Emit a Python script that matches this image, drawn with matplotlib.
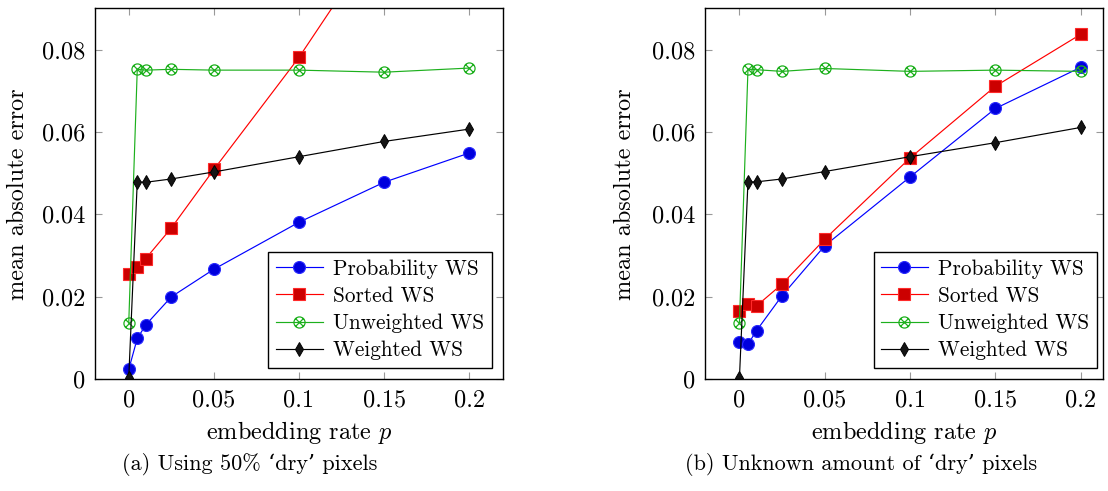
import matplotlib
matplotlib.use("Agg")
import matplotlib.pyplot as plt
from matplotlib.path import Path
import numpy as np

# ---------------- data ----------------
rates = [0, 0.005, 0.01, 0.025, 0.05, 0.1, 0.15, 0.2]

a_prob = [0.0024, 0.0099, 0.0132, 0.0200, 0.0267, 0.0381, 0.0478, 0.0549]
a_sorted = [0.0255, 0.0273, 0.0293, 0.0367, 0.0509, 0.0781, 0.1090, 0.1400]
a_unweighted = [0.0137, 0.0752, 0.0750, 0.0752, 0.0750, 0.0750, 0.0745, 0.0755]
a_weighted = [0.0004, 0.0479, 0.0478, 0.0486, 0.0503, 0.0540, 0.0577, 0.0607]

b_prob = [0.0090, 0.0085, 0.0118, 0.0203, 0.0324, 0.0491, 0.0657, 0.0757]
b_sorted = [0.0166, 0.0183, 0.0178, 0.0231, 0.0340, 0.0537, 0.0711, 0.0837]
b_unweighted = [0.0137, 0.0752, 0.0751, 0.0747, 0.0754, 0.0747, 0.0750, 0.0747]
b_weighted = [0.0003, 0.0479, 0.0479, 0.0486, 0.0504, 0.0540, 0.0574, 0.0611]

series_names = ["Probability WS", "Sorted WS", "Unweighted WS", "Weighted WS"]
xticks = [0, 0.05, 0.1, 0.15, 0.2]
xticklabels = ["0", "0.05", "0.1", "0.15", "0.2"]
yticks = [0, 0.02, 0.04, 0.06, 0.08]
yticklabels = ["0", "0.02", "0.04", "0.06", "0.08"]
xlabel = "embedding rate $p$"
ylabel = "mean absolute error"
captions = ["(a) Using 50% ‘dry’ pixels", "(b) Unknown amount of ‘dry’ pixels"]

# ---------------- style ----------------
plt.rcParams["font.family"] = ["cmr10", "DejaVu Serif"]
plt.rcParams["mathtext.fontset"] = "cm"
plt.rcParams["axes.unicode_minus"] = False

otimes = Path.make_compound_path(
    Path.unit_circle(),
    Path([(-0.7071, -0.7071), (0.7071, 0.7071)], [Path.MOVETO, Path.LINETO]),
    Path([(-0.7071, 0.7071), (0.7071, -0.7071)], [Path.MOVETO, Path.LINETO]),
)

styles = [
    dict(color="#0000ff", marker="o", markersize=8.6, markerfacecolor="#0000dd",
         markeredgecolor="#2a2aff", markeredgewidth=0.8),
    dict(color="#ff0000", marker="s", markersize=8.6, markerfacecolor="#cc0000",
         markeredgecolor="#ff2a2a", markeredgewidth=0.8),
    dict(color="#1db01d", marker=otimes, markersize=8.0, markerfacecolor="none",
         markeredgecolor="#1db01d", markeredgewidth=0.9),
    dict(color="#000000", marker="d", markersize=7.6, markerfacecolor="#151515",
         markeredgecolor="#000000", markeredgewidth=0.7),
]

W, H = 1108, 491
fig = plt.figure(figsize=(W / 100, H / 100), dpi=100)

panels = [
    dict(left=94.7, right=503.3, xlim=(-0.02, 0.22), data=[a_prob, a_sorted, a_unweighted, a_weighted],
         leg_right=491.7, ylab_x=29, cap_x=250),
    dict(left=705.3, right=1103.3, xlim=(-0.02, 0.2132), data=[b_prob, b_sorted, b_unweighted, b_weighted],
         leg_right=1097.0, ylab_x=636, cap_x=861),
]
top_px, bot_px = 8.3, 379.3

for i, p in enumerate(panels):
    ax = fig.add_axes([p["left"] / W, 1 - bot_px / H, (p["right"] - p["left"]) / W, (bot_px - top_px) / H])
    for vals, name, st in zip(p["data"], series_names, styles):
        ax.plot(rates, vals, linewidth=0.85, label=name, **st)
    ax.set_xlim(*p["xlim"])
    ax.set_ylim(0, 0.09)
    ax.set_xticks(xticks)
    ax.set_xticklabels(xticklabels)
    ax.set_yticks(yticks)
    ax.set_yticklabels(yticklabels)
    ax.tick_params(direction="in", length=5, width=0.8, color="#999999",
                   top=True, right=True, labelsize=17.5, pad=7)
    for s in ax.spines.values():
        s.set_linewidth(1.0)
        s.set_color("black")
    ax.set_xlabel(xlabel, fontsize=17.5)
    ax.set_ylabel(ylabel, fontsize=17.5)
    axw = p["right"] - p["left"]
    axh = bot_px - top_px
    ax.xaxis.set_label_coords(0.5, (bot_px - 419) / axh)
    ax.yaxis.set_label_coords((p["ylab_x"] - p["left"]) / axw, 0.5)
    leg = ax.legend(loc="lower right",
                    bbox_to_anchor=((p["leg_right"] - p["left"]) / axw, (bot_px - 367.7) / axh),
                    borderaxespad=0, fontsize=15.3, frameon=True, fancybox=False,
                    edgecolor="black", framealpha=1, handlelength=2.2,
                    handletextpad=0.5, borderpad=0.35, labelspacing=0.36)
    leg.get_frame().set_linewidth(1.0)
    fig.text(p["cap_x"] / W, 1 - 465 / H, captions[i], ha="center", va="center", fontsize=16)

fig.savefig("out.png", dpi=100)
